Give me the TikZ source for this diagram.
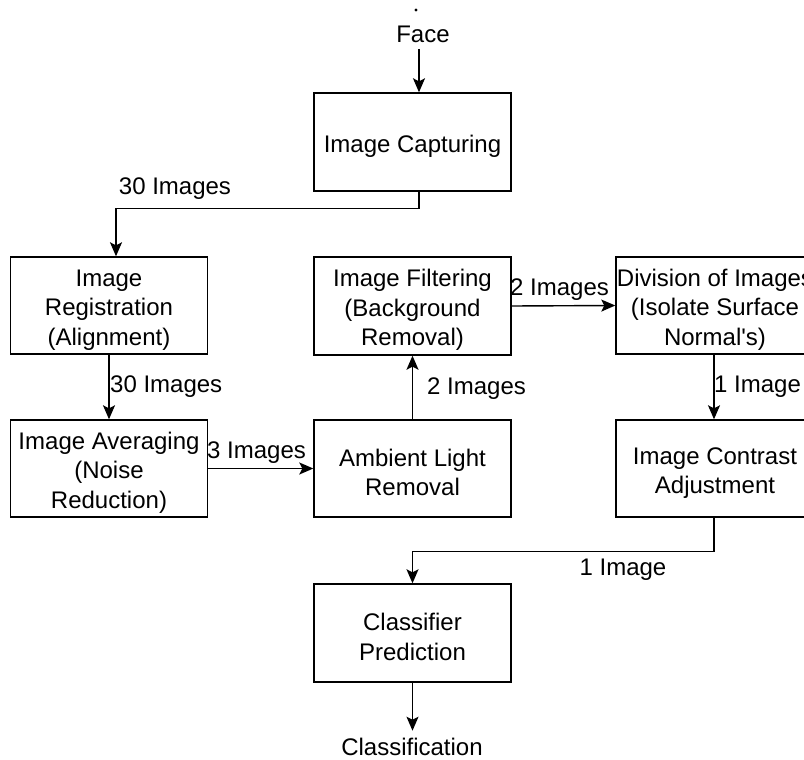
\documentclass[tikz,border=0pt]{standalone}
\usepackage{fontspec}
\setmainfont{Liberation Sans}
\usetikzlibrary{arrows.meta}
% taller first line, so box texts sit slightly below the box centre
\newcommand\boxlift{\rule{0pt}{25.5pt}}
\begin{document}
\begin{tikzpicture}[x=1pt,y=-1pt,
  font=\fontsize{24}{29.5}\selectfont,
  box/.style={draw, line width=1.4pt, align=center, inner sep=0pt,
              minimum width=197pt, minimum height=97pt},
  lbl/.style={inner sep=0pt, align=center},
  arr/.style={line width=1.4pt, -{Stealth[length=14pt,width=12pt,inset=3pt]}}]
\useasboundingbox (0,0) rectangle (804,760);
\clip (0,0) rectangle (804,760);

% source and sink
\fill (416,10) circle (1.6pt);
\node[lbl] (face) at (423,34) {Face};
\coordinate (facestart) at (419,49);
\node[lbl] (clsout) at (412,747) {Classification};

% processing steps
\node[box, minimum height=98pt] (cap) at (412.5,142) {\boxlift Image Capturing};
\node[box] (reg) at (109,305.5) {\boxlift Image\\Registration\\(Alignment)};
\node[box] (avg) at (109,468.5) {\boxlift Image Averaging\\(Noise\\Reduction)};
\node[box] (amb) at (412.5,468.5) {\boxlift Ambient Light\\Removal};
\node[box, minimum height=98pt] (fil) at (412.5,306) {\boxlift Image Filtering\\(Background\\Removal)};
\node[box, minimum width=198pt] (div) at (715,305.5) {\boxlift Division of Images\\(Isolate Surface\\Normal\textquotesingle s)};
\node[box, minimum width=198pt] (con) at (715,468.5) {\boxlift Image Contrast\\Adjustment};
\node[box, minimum height=98pt] (cls) at (412.5,633) {\boxlift Classifier\\Prediction};

% connectors
\draw[arr] (facestart) -- (facestart |- cap.north);
\draw[arr] ([xshift=6.5pt]cap.south) -- ++(0,17) -| ([xshift=7pt]reg.north);
\draw[arr] (reg.south) -- (avg.north);
\draw[arr] (avg.east) -- (amb.west);
\draw[arr] (amb.north) -- (fil.south);
\draw[arr] (fil.east) -- (div.west);
\draw[arr] ([xshift=-1pt]div.south) -- ([xshift=-1pt]con.north);
\draw[arr] ([xshift=-1pt]con.south) -- ++(0,34) -| (cls.north);
\draw[arr] (cls.south) -- ++(0,48);

% connector labels
\node[lbl] (l1) at (175,189) {30 Images};
\node[lbl, anchor=west] (l2) at (110,387) {30 Images};
\node[lbl, anchor=west] (l3) at (207,453) {3 Images};
\node[lbl, anchor=west] (l4) at (427,389) {2 Images};
\node[lbl, anchor=west] (l5) at (510,290) {2 Images};
\node[lbl, anchor=west] (l6) at (714,387) {1 Image};
\node[lbl] (l7) at (623,570) {1 Image};
\end{tikzpicture}
\end{document}
